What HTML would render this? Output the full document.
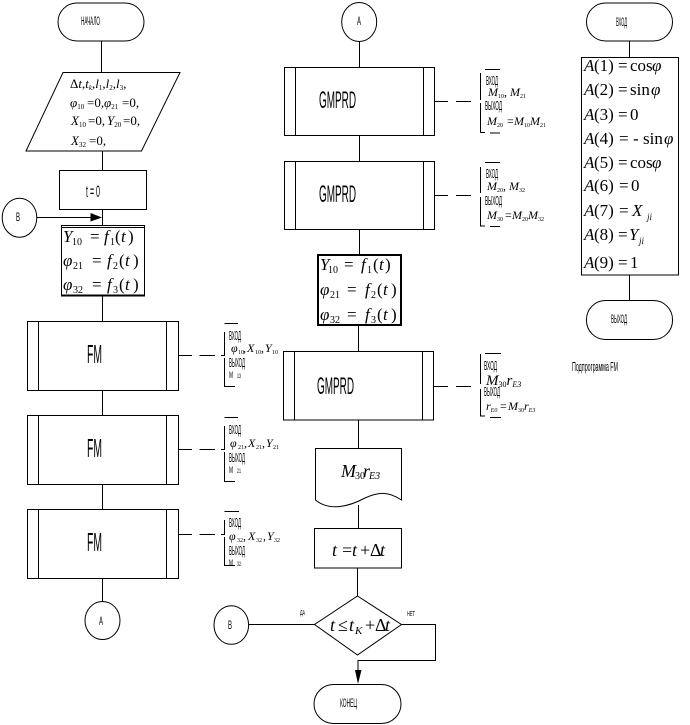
<!DOCTYPE html>
<html><head><meta charset="utf-8">
<style>
html,body{margin:0;padding:0;background:#fff;width:690px;height:725px;overflow:hidden}
svg{display:block}
.g{fill:none;stroke:#000;stroke-width:1}
text{fill:#000}
.s{font-family:"Liberation Sans",sans-serif}
.m{font-family:"Liberation Serif",serif;font-style:italic}
.r{font-family:"Liberation Serif",serif}
</style></head><body>
<svg width="690" height="725" viewBox="0 0 690 725" xmlns="http://www.w3.org/2000/svg">
<g class="g">
<!-- left column -->
<rect x="58" y="3" width="86" height="38" rx="19"/>
<path d="M101.500 41V72M102.500 151V170.500M102.500 209.500V226M102.500 296V321M102.500 390V415M102.500 484V509M102.500 578V602"/>
<path d="M63 72.500H180L141.500 151H26Z"/>
<rect x="59.500" y="170.500" width="87" height="39"/>
<ellipse cx="19.500" cy="217.700" rx="17.300" ry="19.500"/>
<path d="M37 217.500H92"/>
<rect x="61.500" y="225.500" width="83" height="70.500"/>
<path d="M61 227.500H145"/>
<path d="M61 295.500H145" stroke-width="2"/>
<rect x="27.500" y="321.500" width="151" height="69"/><path d="M38.500 321.500V390.500M166.500 321.500V390.500"/>
<rect x="27.500" y="415.500" width="151" height="69"/><path d="M38.500 415.500V484.500M166.500 415.500V484.500"/>
<rect x="27.500" y="509.500" width="151" height="69"/><path d="M38.500 509.500V578.500M166.500 509.500V578.500"/>
<ellipse cx="102.500" cy="620.500" rx="17.500" ry="19"/>
<!-- FM dashed -->
<path d="M178 355.500H192M199.500 355.500H215M221 355.500H225M224.500 332V355M224.500 358V386.500H235M224.500 323.500H238"/>
<path d="M178 449.500H192M199.500 449.500H215M221 449.500H225M224.500 426V449M224.500 452V481.500H235M224.500 417.500H238"/>
<path d="M178 534.500H192M199.500 534.500H215M221 534.500H225M224.500 520V534M224.500 537V565.500H235M224.500 511.500H239"/>
<!-- middle column -->
<ellipse cx="359.200" cy="22" rx="17.500" ry="19.500"/>
<path d="M359.500 41V67.500M359.500 135.500V161.500M359.500 229.500V254M358.500 325V351.500M358.500 420V448M358.500 505V528.500M357.500 568V596"/>
<rect x="284.500" y="67.500" width="150" height="68"/><path d="M295.500 67.500V135.500M423.500 67.500V135.500"/>
<rect x="284.500" y="161.500" width="150" height="68"/><path d="M295.500 161.500V229.500M423.500 161.500V229.500"/>
<rect x="318" y="255" width="83" height="70" stroke-width="2"/>
<rect x="283.500" y="351.500" width="150" height="68.500"/><path d="M294.500 351.500V420M422.500 351.500V420"/>
<path d="M315.500 448.500H401.500V500C388 491 378 492 365 498C350 506 330 512 315.500 500Z"/>
<rect x="314.500" y="528.500" width="87" height="39.500"/>
<path d="M357.500 596L401.500 624.500L357.500 655L314.500 624.500Z"/>
<ellipse cx="231.300" cy="625" rx="17.300" ry="19.300"/>
<path d="M248.500 624.500H314.500M401.500 624.500H435.500V660.500H358V672"/>
<rect x="314" y="684.500" width="87" height="39" rx="19.500"/>
<!-- GMPRD dashes -->
<path d="M434.500 101.500H448M456 101.500H471M480.500 73V100M480.500 103V132.500H485M490 133H500M485 69.500H500"/>
<path d="M434.500 195.500H448M456 195.500H471M480.500 167V193M480.500 197V226H485M490 226.500H500M485 162.500H500"/>
<path d="M433.500 386.500H448M456 386.500H471M480.500 354V384M480.500 389V416H485M490 417.500H501M485 353.500H501"/>
<!-- right column -->
<rect x="586.500" y="3" width="86" height="38" rx="19"/>
<path d="M629.500 41V57.500M629.500 275V300"/>
<rect x="581.500" y="57.500" width="97" height="217.500"/>
<rect x="586.500" y="300.500" width="86" height="39" rx="19"/>
</g>
<path d="M90.500 213L102 217.500L90.500 221.500Z" fill="#000"/>
<path d="M355 670H361.500L358 684Z" fill="#000"/>

<!-- small labels -->
<g class="s" font-size="12">
<text x="81" y="25" textLength="19" lengthAdjust="spacingAndGlyphs">НАЧАЛО</text>
<text x="86" y="197" font-size="17" textLength="14" lengthAdjust="spacingAndGlyphs">t = 0</text>
<text x="16" y="221" textLength="4" lengthAdjust="spacingAndGlyphs">В</text>
<text x="99" y="625" textLength="4" lengthAdjust="spacingAndGlyphs">А</text>
<text x="357" y="25" textLength="4" lengthAdjust="spacingAndGlyphs">А</text>
<text x="228" y="629" textLength="4" lengthAdjust="spacingAndGlyphs">В</text>
<text x="340" y="707" textLength="17" lengthAdjust="spacingAndGlyphs">КОНЕЦ</text>
<text x="616" y="26" textLength="11" lengthAdjust="spacingAndGlyphs">ВХОД</text>
<text x="611" y="323" textLength="16" lengthAdjust="spacingAndGlyphs">ВЫХОД</text>
<text x="572" y="371" font-size="13" textLength="46" lengthAdjust="spacingAndGlyphs">Подпрограмма FM</text>
<text x="300" y="615" font-size="7" textLength="5" lengthAdjust="spacingAndGlyphs">ДА</text>
<text x="407" y="616" font-size="7" textLength="8" lengthAdjust="spacingAndGlyphs">НЕТ</text>
<g font-size="26">
<text x="87" y="363" textLength="15" lengthAdjust="spacingAndGlyphs">FM</text>
<text x="87" y="457" textLength="15" lengthAdjust="spacingAndGlyphs">FM</text>
<text x="87" y="551" textLength="15" lengthAdjust="spacingAndGlyphs">FM</text>
</g>
<g font-size="24">
<text x="319" y="108" textLength="37" lengthAdjust="spacingAndGlyphs">GMPRD</text>
<text x="319" y="202" textLength="37" lengthAdjust="spacingAndGlyphs">GMPRD</text>
<text x="317" y="394" textLength="37" lengthAdjust="spacingAndGlyphs">GMPRD</text>
</g>
<g font-size="13">
<text x="229" y="340" textLength="12" lengthAdjust="spacingAndGlyphs">ВХОД</text>
<text x="229" y="367" textLength="16" lengthAdjust="spacingAndGlyphs">ВЫХОД</text>
<text x="229" y="378" font-size="9" textLength="4" lengthAdjust="spacingAndGlyphs">М</text>
<text x="237" y="378" font-size="6" textLength="4" lengthAdjust="spacingAndGlyphs">13</text>
<text x="229" y="434" textLength="12" lengthAdjust="spacingAndGlyphs">ВХОД</text>
<text x="229" y="462" textLength="16" lengthAdjust="spacingAndGlyphs">ВЫХОД</text>
<text x="229" y="473" font-size="9" textLength="4" lengthAdjust="spacingAndGlyphs">М</text>
<text x="237" y="473" font-size="6" textLength="4" lengthAdjust="spacingAndGlyphs">21</text>
<text x="229" y="527" textLength="12" lengthAdjust="spacingAndGlyphs">ВХОД</text>
<text x="229" y="555" textLength="16" lengthAdjust="spacingAndGlyphs">ВЫХОД</text>
<text x="229" y="566" font-size="9" textLength="4" lengthAdjust="spacingAndGlyphs">М</text>
<text x="237" y="566" font-size="6" textLength="4" lengthAdjust="spacingAndGlyphs">32</text>
<text x="486" y="85" textLength="12" lengthAdjust="spacingAndGlyphs">ВХОД</text>
<text x="485" y="110" textLength="17" lengthAdjust="spacingAndGlyphs">ВЫХОД</text>
<text x="486" y="178" textLength="12" lengthAdjust="spacingAndGlyphs">ВХОД</text>
<text x="485" y="205" textLength="17" lengthAdjust="spacingAndGlyphs">ВЫХОД</text>
<text x="484" y="370" textLength="13" lengthAdjust="spacingAndGlyphs">ВХОД</text>
<text x="484" y="396" textLength="16" lengthAdjust="spacingAndGlyphs">ВЫХОД</text>
</g>
</g>

<!-- parallelogram math -->
<g class="r" font-size="13">
<text x="70" y="88"><tspan>Δ</tspan><tspan class="m">t</tspan>,<tspan class="m">t</tspan><tspan font-size="7" dy="2" class="m">k</tspan><tspan dy="-2">,</tspan><tspan class="m">l</tspan><tspan font-size="7" dy="2">1</tspan><tspan dy="-2">,</tspan><tspan class="m">l</tspan><tspan font-size="7" dy="2">2</tspan><tspan dy="-2">,</tspan><tspan class="m">l</tspan><tspan font-size="7" dy="2">3</tspan><tspan dy="-2">,</tspan></text>
<text x="70" y="107"><tspan class="m">φ</tspan><tspan font-size="7" dy="2">10</tspan><tspan dy="-2" x="87">=0,</tspan><tspan class="m" x="104">φ</tspan><tspan font-size="7" dy="2">21</tspan><tspan dy="-2" x="122">=0,</tspan></text>
<text x="71" y="125"><tspan class="m">X</tspan><tspan font-size="7" dy="2">10</tspan><tspan dy="-2" x="88">=0,</tspan><tspan class="m" x="107">Y</tspan><tspan font-size="7" dy="2">20</tspan><tspan dy="-2" x="123">=0,</tspan></text>
<text x="71" y="145"><tspan class="m">X</tspan><tspan font-size="7" dy="2">32</tspan><tspan dy="-2" x="89">=0,</tspan></text>
</g>

<!-- f boxes -->
<g class="r" font-size="17">
<text y="242"><tspan class="m" x="63">Y</tspan><tspan font-size="10" x="72" dy="3">10</tspan><tspan x="90" dy="-3">=</tspan><tspan class="m" x="104">f</tspan><tspan font-size="10" x="110" dy="3">1</tspan><tspan x="115" dy="-3">(</tspan><tspan class="m" x="121">t</tspan><tspan x="128">)</tspan></text>
<text y="266"><tspan class="m" x="63">φ</tspan><tspan font-size="10" x="73" dy="3">21</tspan><tspan x="92" dy="-3">=</tspan><tspan class="m" x="107">f</tspan><tspan font-size="10" x="113" dy="3">2</tspan><tspan x="119" dy="-3">(</tspan><tspan class="m" x="125">t</tspan><tspan x="133">)</tspan></text>
<text y="290"><tspan class="m" x="63">φ</tspan><tspan font-size="10" x="73" dy="3">32</tspan><tspan x="92" dy="-3">=</tspan><tspan class="m" x="107">f</tspan><tspan font-size="10" x="113" dy="3">3</tspan><tspan x="119" dy="-3">(</tspan><tspan class="m" x="125">t</tspan><tspan x="133">)</tspan></text>
<text y="270"><tspan class="m" x="320">Y</tspan><tspan font-size="10" x="328" dy="3">10</tspan><tspan x="344" dy="-3">=</tspan><tspan class="m" x="361">f</tspan><tspan font-size="10" x="367" dy="3">1</tspan><tspan x="373" dy="-3">(</tspan><tspan class="m" x="379">t</tspan><tspan x="385">)</tspan></text>
<text y="295"><tspan class="m" x="320">φ</tspan><tspan font-size="10" x="330" dy="3">21</tspan><tspan x="347" dy="-3">=</tspan><tspan class="m" x="365">f</tspan><tspan font-size="10" x="371" dy="3">2</tspan><tspan x="377" dy="-3">(</tspan><tspan class="m" x="383">t</tspan><tspan x="391">)</tspan></text>
<text y="320"><tspan class="m" x="320">φ</tspan><tspan font-size="10" x="330" dy="3">32</tspan><tspan x="347" dy="-3">=</tspan><tspan class="m" x="365">f</tspan><tspan font-size="10" x="371" dy="3">3</tspan><tspan x="377" dy="-3">(</tspan><tspan class="m" x="383">t</tspan><tspan x="391">)</tspan></text>
</g>

<!-- bracket math -->
<g class="r" font-size="12">
<text y="352"><tspan class="m" x="231">φ</tspan><tspan font-size="6" dy="2" x="238">10</tspan><tspan dy="-2" x="243">,</tspan><tspan class="m" x="247">X</tspan><tspan font-size="6" dy="2" x="255">10</tspan><tspan dy="-2" x="261">,</tspan><tspan class="m" x="265">Y</tspan><tspan font-size="6" dy="2" x="272">10</tspan></text>
<text y="447"><tspan class="m" x="230">φ</tspan><tspan font-size="6" dy="2" x="238">21</tspan><tspan dy="-2" x="244">,</tspan><tspan class="m" x="248">X</tspan><tspan font-size="6" dy="2" x="256">21</tspan><tspan dy="-2" x="262">,</tspan><tspan class="m" x="266">Y</tspan><tspan font-size="6" dy="2" x="273">21</tspan></text>
<text y="540"><tspan class="m" x="229">φ</tspan><tspan font-size="6" dy="2" x="237">32</tspan><tspan dy="-2" x="243">,</tspan><tspan class="m" x="248">X</tspan><tspan font-size="6" dy="2" x="256">32</tspan><tspan dy="-2" x="263">,</tspan><tspan class="m" x="267">Y</tspan><tspan font-size="6" dy="2" x="274">32</tspan></text>
<text x="488" y="96"><tspan class="m">M</tspan><tspan font-size="6" dy="2">10</tspan><tspan dy="-2">, </tspan><tspan class="m">M</tspan><tspan font-size="6" dy="2">21</tspan></text>
<text x="487" y="125"><tspan class="m">M</tspan><tspan font-size="6" dy="2">20</tspan><tspan dy="-2" x="507">=</tspan><tspan class="m" x="514">M</tspan><tspan font-size="6" dy="2">10</tspan><tspan class="m" dy="-2" x="530">M</tspan><tspan font-size="6" dy="2">21</tspan></text>
<text x="487" y="190"><tspan class="m">M</tspan><tspan font-size="6" dy="2">20</tspan><tspan dy="-2">, </tspan><tspan class="m">M</tspan><tspan font-size="6" dy="2">32</tspan></text>
<text x="487" y="219"><tspan class="m">M</tspan><tspan font-size="6" dy="2">30</tspan><tspan dy="-2" x="505">=</tspan><tspan class="m" x="512">M</tspan><tspan font-size="6" dy="2">20</tspan><tspan class="m" dy="-2" x="528">M</tspan><tspan font-size="6" dy="2">32</tspan></text>
<text x="486" y="385" font-size="15"><tspan class="m">M</tspan><tspan font-size="8" dy="2">30</tspan><tspan class="m" dy="-2">r</tspan><tspan font-size="8" dy="2" class="m">E3</tspan></text>
<text x="486" y="410"><tspan class="m">r</tspan><tspan font-size="6" dy="2" class="m">E0</tspan><tspan dy="-2" x="500">=</tspan><tspan class="m" x="508">M</tspan><tspan font-size="6" dy="2">30</tspan><tspan class="m" dy="-2">r</tspan><tspan font-size="6" dy="2" class="m">E3</tspan></text>
</g>

<!-- middle math -->
<g class="r" font-size="18">
<text y="477"><tspan class="m" x="341">M</tspan><tspan font-size="10" dy="2" x="355">30</tspan><tspan class="m" dy="-2" x="363">r</tspan><tspan font-size="10" dy="2" class="m" x="369">E3</tspan></text>
<text y="556"><tspan class="m" x="332">t</tspan><tspan x="342">=</tspan><tspan class="m" x="352">t</tspan><tspan x="360">+</tspan><tspan x="370">Δ</tspan><tspan class="m" x="380">t</tspan></text>
<text y="631"><tspan class="m" x="330">t</tspan><tspan x="338">≤</tspan><tspan class="m" x="349">t</tspan><tspan font-size="11" dy="3" class="m" x="355">K</tspan><tspan dy="-3" x="365">+</tspan><tspan x="375">Δ</tspan><tspan class="m" x="385">t</tspan></text>
</g>

<!-- right column math -->
<g class="r" font-size="17">
<text y="71"><tspan class="m" x="584">A</tspan><tspan x="594">(1)</tspan><tspan x="618">=</tspan><tspan x="630">cos</tspan><tspan class="m" x="652">φ</tspan></text>
<text y="95"><tspan class="m" x="584">A</tspan><tspan x="594">(2)</tspan><tspan x="618">=</tspan><tspan x="630">sin</tspan><tspan class="m" x="651">φ</tspan></text>
<text y="120"><tspan class="m" x="584">A</tspan><tspan x="594">(3)</tspan><tspan x="618">=</tspan><tspan x="630">0</tspan></text>
<text y="144"><tspan class="m" x="584">A</tspan><tspan x="594">(4)</tspan><tspan x="619">=</tspan><tspan x="633">-</tspan><tspan x="643">sin</tspan><tspan class="m" x="664">φ</tspan></text>
<text y="168"><tspan class="m" x="584">A</tspan><tspan x="594">(5)</tspan><tspan x="618">=</tspan><tspan x="630">cos</tspan><tspan class="m" x="652">φ</tspan></text>
<text y="191"><tspan class="m" x="584">A</tspan><tspan x="594">(6)</tspan><tspan x="619">=</tspan><tspan x="631">0</tspan></text>
<text y="216"><tspan class="m" x="584">A</tspan><tspan x="594">(7)</tspan><tspan x="619">=</tspan><tspan class="m" x="632">X</tspan><tspan font-size="9" dy="4" class="m" x="647">ji</tspan></text>
<text y="240"><tspan class="m" x="584">A</tspan><tspan x="594">(8)</tspan><tspan x="618">=</tspan><tspan class="m" x="629">Y</tspan><tspan font-size="9" dy="4" class="m" x="639">ji</tspan></text>
<text y="268"><tspan class="m" x="584">A</tspan><tspan x="594">(9)</tspan><tspan x="618">=</tspan><tspan x="630">1</tspan></text>
</g>
</svg>
</body></html>
